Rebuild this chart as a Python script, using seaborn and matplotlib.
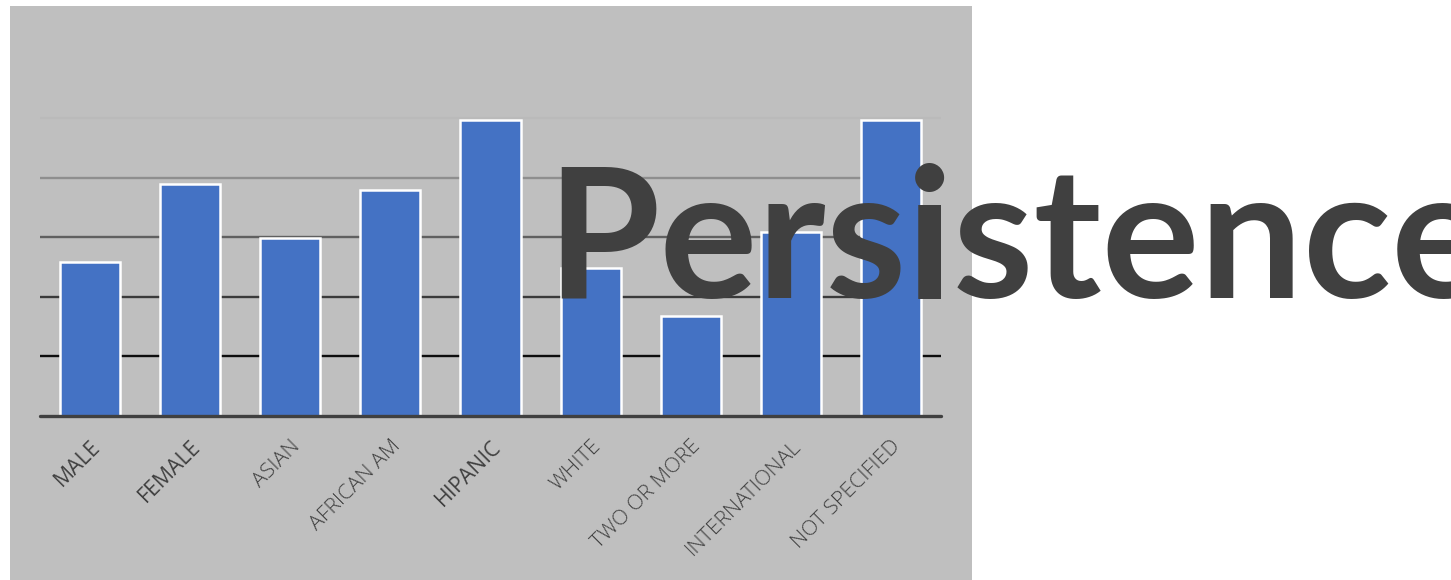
import matplotlib
matplotlib.use("Agg")
import matplotlib.pyplot as plt
import seaborn as sns
import pandas as pd
from matplotlib.patches import Rectangle

categories = ["MALE", "FEMALE", "ASIAN", "AFRICAN AM", "HIPANIC", "WHITE",
              "TWO OR MORE", "INTERNATIONAL", "NOT SPECIFIED"]
values = [2.59, 3.89, 2.98, 3.79, 4.98, 2.49, 1.68, 3.08, 4.98]
grid_levels = [1, 2, 3, 4, 5]
grid_colors = ["#0d0d0d", "#3a3a3a", "#606060", "#8e8e8e", "#bababa"]
bold_labels = ["MALE", "FEMALE", "HIPANIC"]
title_text = "Persistence"

sns.set_theme(style="white")
plt.rcParams["font.family"] = ["Open Sans", "DejaVu Sans"]

W, H = 1451, 580
fig = plt.figure(figsize=(W / 100, H / 100), dpi=100)
fig.patch.set_facecolor("white")
bg = Rectangle((10 / W, 0), (972 - 10) / W, (580 - 6) / H,
               transform=fig.transFigure, facecolor="#bfbfbf",
               edgecolor="none", zorder=-5)
fig.patches.append(bg)

ax = fig.add_axes([40 / W, 1 - 415.5 / H, (941 - 40) / W, (415.5 - 59) / H])
ax.set_zorder(2)
ax.set_facecolor("none")
ax.patch.set_alpha(0)

df = pd.DataFrame({"cat": categories, "val": values})
sns.barplot(data=df, x="cat", y="val", color="#4472c4", saturation=1,
            width=0.6, edgecolor="white", linewidth=1.8, ax=ax, zorder=3)

for lvl, c in zip(grid_levels, grid_colors):
    ax.axhline(lvl, color=c, linewidth=1.7, zorder=1)
ax.axhline(0, color="#404040", linewidth=2.4, zorder=4, clip_on=False)

ax.set_ylim(0, 6)
ax.set_xlim(-0.5, len(categories) - 0.5)
ax.set_xlabel("")
ax.set_ylabel("")
ax.set_yticks([])
for s in ax.spines.values():
    s.set_visible(False)
ax.tick_params(axis="x", length=0, pad=15)
ax.set_xticks(range(len(categories)))
ax.set_xticklabels(categories, rotation=45, ha="right", rotation_mode="anchor",
                   fontsize=15.3, color="#404040", fontweight="light")
for lab in ax.get_xticklabels():
    if lab.get_text() in bold_labels:
        lab.set_fontweight("normal")

fig.text(546 / W, 1 - 298 / H, title_text, fontsize=132, fontweight="bold",
         color="#404040", ha="left", va="baseline", zorder=10,
         family=["Lato", "DejaVu Sans"])

fig.savefig("out.png", dpi=100, facecolor="white")
